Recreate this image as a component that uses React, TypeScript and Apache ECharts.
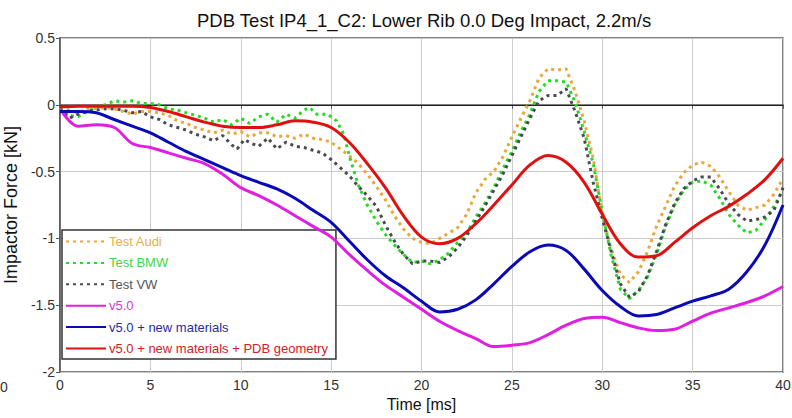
import React, { useEffect, useRef } from "react";
import * as echarts from "echarts";

const TITLE = "PDB Test IP4_1_C2: Lower Rib 0.0 Deg Impact, 2.2m/s";
const X_NAME = "Time [ms]";
const Y_NAME = "Impactor Force [kN]";

const audi: number[][] = [[0,-0.02],[0.5,-0.04],[1,-0.06],[1.5,-0.03],[2,-0.03],[2.5,-0.02],[3,-0.03],[3.5,-0.05],[4,-0.07],[4.5,-0.05],[5,-0.05],[5.5,-0.06],[6,-0.08],[6.5,-0.12],[7,-0.14],[7.5,-0.17],[8,-0.19],[8.5,-0.21],[9,-0.19],[9.5,-0.22],[10,-0.20],[10.5,-0.24],[11,-0.21],[11.5,-0.21],[12,-0.24],[12.5,-0.23],[13,-0.25],[13.5,-0.22],[14,-0.25],[14.5,-0.26],[15,-0.28],[15.5,-0.33],[16,-0.38],[16.5,-0.44],[17,-0.52],[17.5,-0.61],[18,-0.71],[18.5,-0.83],[19,-0.93],[19.5,-1.00],[20,-1.03],[20.5,-1.04],[21,-1.00],[21.5,-0.96],[22,-0.92],[22.5,-0.82],[23,-0.66],[23.5,-0.56],[24,-0.50],[24.5,-0.39],[25,-0.24],[25.5,-0.10],[26,0.03],[26.5,0.20],[27,0.27],[27.5,0.26],[28,0.27],[28.5,0.10],[29,-0.12],[29.5,-0.40],[30,-0.82],[30.5,-1.08],[31,-1.27],[31.5,-1.33],[32,-1.25],[32.5,-1.10],[33,-0.91],[33.5,-0.76],[34,-0.61],[34.5,-0.51],[35,-0.45],[35.5,-0.43],[36,-0.46],[36.5,-0.54],[37,-0.65],[37.5,-0.75],[38,-0.79],[38.5,-0.77],[39,-0.75],[39.5,-0.67],[40,-0.55]];

const bmw: number[][] = [[0,-0.02],[0.5,-0.08],[1,-0.09],[1.5,-0.05],[2,-0.02],[2.5,0.0],[3,0.03],[3.5,0.02],[4,0.03],[4.5,0.01],[5,0.01],[5.5,0.0],[6,-0.03],[6.5,-0.04],[7,-0.06],[7.5,-0.08],[8,-0.10],[8.5,-0.13],[9,-0.11],[9.5,-0.15],[10,-0.10],[10.5,-0.14],[11,-0.09],[11.5,-0.07],[12,-0.13],[12.5,-0.07],[13,-0.10],[13.5,-0.04],[13.8,-0.02],[14.2,-0.07],[14.8,-0.07],[15.3,-0.12],[15.7,-0.22],[16,-0.38],[16.5,-0.60],[17,-0.75],[17.5,-0.87],[18,-0.97],[18.5,-1.05],[19,-1.12],[19.5,-1.18],[20,-1.17],[20.5,-1.19],[21,-1.16],[21.5,-1.11],[22,-1.03],[22.5,-0.96],[23,-0.84],[23.5,-0.74],[24,-0.62],[24.5,-0.48],[25,-0.35],[25.5,-0.20],[26,-0.07],[26.5,0.10],[27,0.18],[27.5,0.18],[28,0.17],[28.5,0.02],[29,-0.20],[29.5,-0.44],[30,-0.80],[30.5,-1.13],[31,-1.38],[31.5,-1.45],[32,-1.39],[32.5,-1.29],[33,-1.12],[33.5,-0.91],[34,-0.75],[34.5,-0.64],[35,-0.58],[35.5,-0.57],[36,-0.60],[36.5,-0.70],[37,-0.82],[37.5,-0.90],[38,-0.96],[38.5,-0.94],[39,-0.86],[39.5,-0.76],[40,-0.64]];

const vw: number[][] = [[0,-0.03],[0.5,-0.10],[1,-0.07],[1.5,-0.05],[2,-0.04],[2.5,-0.03],[3,-0.03],[3.5,-0.04],[4,-0.06],[4.5,-0.05],[5,-0.09],[5.5,-0.11],[6,-0.15],[6.5,-0.17],[7,-0.19],[7.5,-0.22],[8,-0.24],[8.5,-0.27],[9,-0.23],[9.5,-0.30],[9.8,-0.33],[10.2,-0.26],[10.6,-0.29],[11,-0.31],[11.5,-0.25],[12,-0.33],[12.5,-0.28],[13,-0.31],[13.5,-0.32],[14,-0.34],[14.5,-0.36],[15,-0.41],[15.5,-0.47],[16,-0.53],[16.5,-0.61],[17,-0.68],[17.5,-0.76],[18,-0.90],[18.5,-1.02],[19,-1.12],[19.5,-1.19],[20,-1.17],[20.5,-1.17],[21,-1.18],[21.5,-1.14],[22,-1.07],[22.5,-0.98],[23,-0.87],[23.5,-0.76],[24,-0.64],[24.5,-0.52],[25,-0.38],[25.5,-0.24],[26,-0.10],[26.5,0.03],[27,0.07],[27.5,0.07],[28,0.12],[28.5,-0.05],[29,-0.25],[29.5,-0.58],[30,-0.85],[30.5,-1.10],[31,-1.34],[31.5,-1.44],[32,-1.40],[32.5,-1.28],[33,-1.10],[33.5,-0.90],[34,-0.74],[34.5,-0.63],[35,-0.57],[35.5,-0.54],[36,-0.54],[36.5,-0.63],[37,-0.74],[37.5,-0.82],[38,-0.87],[38.5,-0.86],[39,-0.84],[39.5,-0.79],[40,-0.62]];

const simTime: number[] = [0,1,2,3,4,5,6,7,8,9,10,11,12,13,14,15,16,17,18,19,20,21,22,23,24,25,26,27,28,29,30,31,32,33,34,35,36,37,38,39,40];

const v50: number[] = [-0.03,-0.16,-0.15,-0.17,-0.29,-0.32,-0.36,-0.40,-0.44,-0.52,-0.62,-0.68,-0.75,-0.83,-0.91,-0.99,-1.12,-1.24,-1.35,-1.44,-1.53,-1.62,-1.69,-1.75,-1.81,-1.80,-1.78,-1.72,-1.65,-1.60,-1.59,-1.63,-1.67,-1.69,-1.68,-1.62,-1.56,-1.52,-1.48,-1.43,-1.36];

const v50Mat: number[] = [-0.05,-0.05,-0.06,-0.11,-0.16,-0.21,-0.28,-0.35,-0.41,-0.47,-0.53,-0.58,-0.63,-0.70,-0.79,-0.88,-1.02,-1.16,-1.28,-1.37,-1.47,-1.55,-1.53,-1.46,-1.34,-1.21,-1.10,-1.05,-1.09,-1.23,-1.39,-1.51,-1.58,-1.57,-1.52,-1.47,-1.43,-1.38,-1.25,-1.05,-0.75];

const v50Pdb: number[] = [-0.015,-0.01,-0.01,-0.01,-0.01,-0.02,-0.05,-0.09,-0.13,-0.16,-0.17,-0.17,-0.15,-0.12,-0.13,-0.17,-0.28,-0.44,-0.62,-0.83,-0.99,-1.04,-1.0,-0.89,-0.75,-0.60,-0.45,-0.38,-0.43,-0.58,-0.82,-1.04,-1.14,-1.13,-1.03,-0.92,-0.83,-0.76,-0.67,-0.56,-0.40];

const SERIES_NAMES = ["Test Audi", "Test BMW", "Test VW", "v5.0", "v5.0 + new materials", "v5.0 + new materials + PDB geometry"];
const LINE_COLORS = ["#e8a83a", "#22dd22", "#4a4a52", "#e01fe0", "#0a0ab4", "#e01010"];
const TEXT_COLORS = ["#e2b04e", "#3fd83f", "#555555", "#d03ad0", "#2a2aa0", "#d02222"];

const FONT = "'Liberation Sans', Arial, sans-serif";

export default function App() {
  const ref = useRef<HTMLDivElement>(null);
  useEffect(() => {
    document.body.style.margin = "0";
    const chart = echarts.init(ref.current!, null, { renderer: "svg" });
    const pair = (vals: number[]) => simTime.map((t, i) => [t, vals[i]]);
    const tests = [audi, bmw, vw];
    const sims = [v50, v50Mat, v50Pdb];
    const series: any[] = [];
    tests.forEach((d, i) => {
      series.push({
        name: SERIES_NAMES[i],
        type: "line",
        data: d,
        symbol: "none",
        showSymbol: false,
        lineStyle: { color: LINE_COLORS[i], width: 3, type: [3, 4] },
        itemStyle: { color: LINE_COLORS[i] },
        z: 3,
      });
    });
    sims.forEach((d, j) => {
      const i = j + 3;
      series.push({
        name: SERIES_NAMES[i],
        type: "line",
        data: pair(d),
        symbol: "none",
        showSymbol: false,
        smooth: 0.35,
        lineStyle: { color: LINE_COLORS[i], width: 3 },
        itemStyle: { color: LINE_COLORS[i] },
        z: 4,
      });
    });
    series[0].markLine = {
      silent: true,
      symbol: "none",
      label: { show: false },
      lineStyle: { color: "#222", width: 1.2, type: "solid" },
      data: [{ yAxis: 0 }],
      z: 2,
    };

    chart.setOption({
      animation: false,
      backgroundColor: "#ffffff",
      title: {
        text: TITLE,
        left: 192,
        top: 6,
        textStyle: { fontFamily: FONT, fontSize: 18.5, fontWeight: "normal", color: "#111" },
      },
      grid: {
        left: 60,
        right: 9,
        top: 38,
        bottom: 46,
        outerBoundsMode: "none",
        containLabel: false,
        show: true,
        borderColor: "#555",
        borderWidth: 1.5,
        backgroundColor: "#fff",
      },
      legend: {
        orient: "vertical",
        left: 62,
        top: 230,
        padding: [5, 8, 4, 3],
        itemWidth: 40,
        itemHeight: 14,
        itemGap: 8.4,
        backgroundColor: "#ffffff",
        borderColor: "#333",
        borderWidth: 1.5,
        itemStyle: { opacity: 0 },
        textStyle: { fontFamily: FONT, fontSize: 13, padding: [0, 0, 0, -2] },
        data: SERIES_NAMES.map((n, i) => ({ name: n, textStyle: { color: TEXT_COLORS[i] } })),
      },
      xAxis: {
        type: "value",
        min: 0,
        max: 40,
        interval: 5,
        name: X_NAME,
        nameLocation: "middle",
        nameGap: 24,
        nameTextStyle: { fontFamily: FONT, fontSize: 16, color: "#111" },
        axisLine: { show: true, lineStyle: { color: "#555", width: 1.5 } },
        axisTick: { show: true, inside: false, length: 4, lineStyle: { color: "#555" } },
        axisLabel: { fontFamily: FONT, fontSize: 14, color: "#333", margin: 6 },
        splitLine: { show: true, lineStyle: { color: "#cccccc", width: 1 } },
      },
      yAxis: {
        type: "value",
        min: -2,
        max: 0.5,
        interval: 0.5,
        name: Y_NAME,
        nameLocation: "middle",
        nameRotate: 90,
        nameGap: 25,
        nameTextStyle: { fontFamily: FONT, fontSize: 18, color: "#111" },
        axisLine: { show: true, lineStyle: { color: "#555", width: 1.5 } },
        axisTick: { show: true, inside: false, length: 4, lineStyle: { color: "#555" } },
        axisLabel: { fontFamily: FONT, fontSize: 14, color: "#333", margin: 5 },
        splitLine: { show: true, lineStyle: { color: "#cccccc", width: 1 } },
      },
      graphic: [
        {
          type: "text",
          left: 0,
          top: 380,
          style: { text: "0", fontFamily: FONT, fontSize: 14, fill: "#333" },
        },
      ],
      series,
    });
    return () => chart.dispose();
  }, []);
  return <div ref={ref} style={{ width: 792, height: 418 }} />;
}
